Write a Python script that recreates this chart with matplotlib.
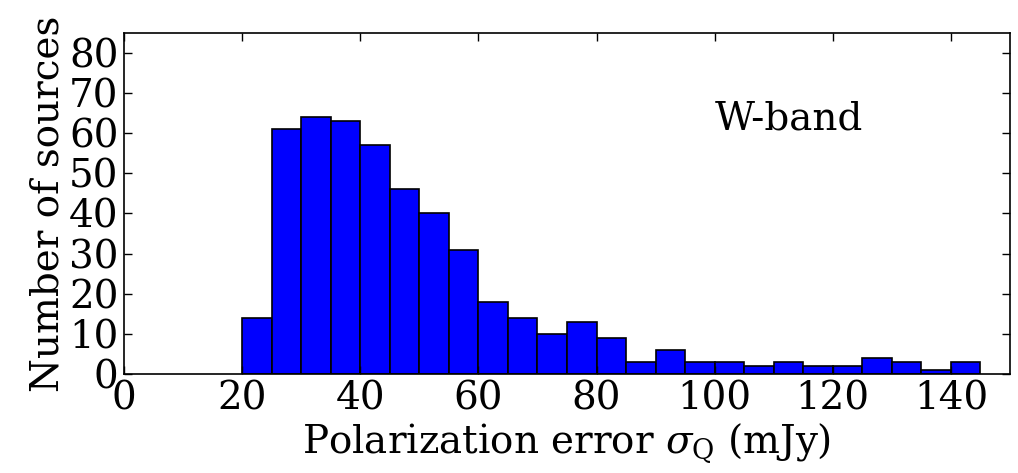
import numpy as np
import matplotlib
matplotlib.use("Agg")
import matplotlib.pyplot as plt

# Data (bin width 5 mJy, 20 -> 145)
bin_edges = list(range(20, 150, 5))
counts = [14, 61, 64, 63, 57, 46, 40, 31, 18, 14, 10, 13, 9, 3, 6, 3, 3, 2, 3, 2, 2, 4, 3, 1, 3]
x_ticks = [0, 20, 40, 60, 80, 100, 120, 140]
y_ticks = [0, 10, 20, 30, 40, 50, 60, 70, 80]

plt.rcParams['font.family'] = ['DejaVu Serif']
plt.rcParams['mathtext.fontset'] = 'dejavuserif'

fig = plt.figure(figsize=(10.18, 4.73), dpi=100)
ax = fig.add_axes([0.1218, 0.2093, 0.8703, 0.7216])

lefts = np.array(bin_edges[:-1])
widths = np.diff(bin_edges)
ax.bar(lefts, counts, width=widths, align='edge', color='#0000ff',
       edgecolor='black', linewidth=1.2)

ax.set_xlim(0, 150)
ax.set_ylim(0, 85)
ax.set_xticks(x_ticks)
ax.set_yticks(y_ticks)
ax.tick_params(direction='in', top=True, right=True, length=6, width=1,
               labelsize=28)
ax.tick_params(axis='x', pad=5)
ax.tick_params(axis='y', pad=4)
for s in ax.spines.values():
    s.set_linewidth(1.2)

ax.set_xlabel(r'Polarization error $\sigma_{\rm Q}$ (mJy)', fontsize=28, labelpad=2)
ax.set_ylabel('Number of sources', fontsize=28, labelpad=2)
ax.text(100, 61, 'W-band', fontsize=28, ha='left', va='baseline')

fig.savefig('out.png', dpi=100)
